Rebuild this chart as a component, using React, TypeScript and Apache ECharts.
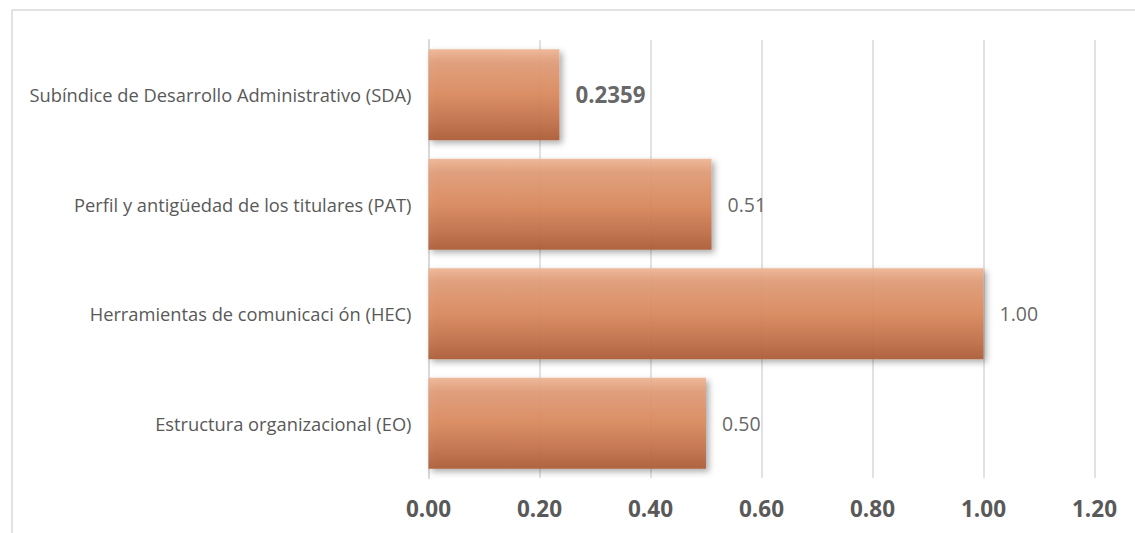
import React, { useEffect, useRef } from "react";
import * as echarts from "echarts";

const categories = [
  "Estructura organizacional (EO)",
  "Herramientas de comunicaci ón (HEC)",
  "Perfil y antigüedad de los titulares (PAT)",
  "Subíndice de Desarrollo Administrativo (SDA)",
];
const values = [0.5, 1.0, 0.51, 0.2359];
const valueLabels = ["0.50", "1.00", "0.51", "0.2359"];
const xTicks = [0, 0.2, 0.4, 0.6, 0.8, 1.0, 1.2];

const FONT = "Open Sans";
const TEXT = "#595959";

export default function App() {
  const ref = useRef<HTMLDivElement>(null);
  useEffect(() => {
    if (!ref.current) return;
    const chart = echarts.init(ref.current, undefined, { renderer: "svg" });
    const barColor = new echarts.graphic.LinearGradient(0, 0, 0, 1, [
      { offset: 0, color: "#eeb594" },
      { offset: 0.15, color: "#e19d79" },
      { offset: 0.5, color: "#db8a5e" },
      { offset: 0.8, color: "#c2714a" },
      { offset: 1, color: "#ad5d38" },
    ]);
    chart.setOption({
      animation: false,
      backgroundColor: "#ffffff",
      graphic: [
        {
          type: "rect",
          shape: { x: 12, y: 10, width: 1140, height: 540 },
          style: { fill: "none", stroke: "#d9d9d9", lineWidth: 1.5 },
          silent: true,
        },
      ],
      grid: { left: 428.5, right: 40.5, top: 40, bottom: 55, containLabel: false },
      xAxis: {
        type: "value",
        min: 0,
        max: 1.2,
        interval: 0.2,
        axisLine: { show: false },
        axisTick: { show: false },
        splitLine: { show: true, lineStyle: { color: "#d9d9d9", width: 1.5 } },
        axisLabel: {
          color: TEXT,
          fontFamily: FONT,
          fontSize: 22.5,
          fontWeight: "bold",
          margin: 18.5,
          formatter: (v: number) => (xTicks.includes(Math.round(v * 10) / 10) ? v.toFixed(2) : ""),
        },
      },
      yAxis: {
        type: "category",
        data: categories,
        axisLine: { show: true, lineStyle: { color: "#d9d9d9", width: 2 } },
        axisTick: { show: false },
        axisLabel: { color: TEXT, fontFamily: FONT, fontSize: 18.3, margin: 17 },
      },
      series: [
        {
          type: "bar",
          barCategoryGap: "17%",
          data: values.map((v, i) => ({
            value: v,
            label:
              i === 3
                ? { fontWeight: "bold", fontSize: 22.3 }
                : { fontWeight: "normal", fontSize: 19.5 },
          })),
          itemStyle: {
            color: barColor,
            opacity: 0.93,
            shadowColor: "rgba(0,0,0,0.35)",
            shadowBlur: 6,
            shadowOffsetX: 3,
            shadowOffsetY: 3,
          },
          label: {
            show: true,
            position: "right",
            distance: 16,
            color: TEXT,
            fontFamily: FONT,
            formatter: (p: any) => valueLabels[p.dataIndex],
          },
        },
      ],
    });
    return () => chart.dispose();
  }, []);
  return (
    <div
      ref={ref}
      style={{ position: "absolute", left: 0, top: 0, width: 1135, height: 533 }}
    />
  );
}
